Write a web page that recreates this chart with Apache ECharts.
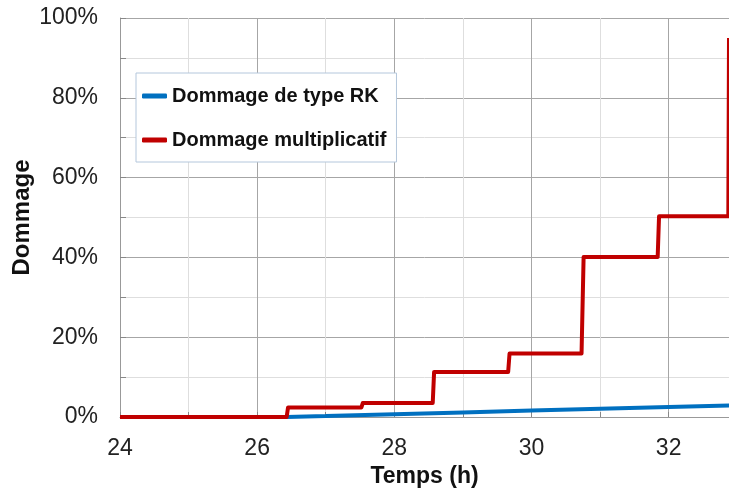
<!DOCTYPE html>
<html>
<head>
<meta charset="utf-8">
<script src="https://cdn.jsdelivr.net/npm/echarts@6/dist/echarts.min.js"></script>
<style>html,body{margin:0;padding:0;background:#fff}#c{width:729px;height:488px}</style>
</head>
<body>
<div id="c"></div>
<script>
// Data (time in hours, damage in %)
const seriesNames = ['Dommage de type RK', 'Dommage multiplicatif'];
const rkTime   = [24, 26.43, 27, 28, 29, 30, 31, 32, 32.9];
const rkValue  = [0, 0, 0.25, 0.7, 1.15, 1.6, 2.05, 2.5, 2.9];
const mulTime  = [24, 26.43, 26.45, 27.52, 27.54, 28.56, 28.58, 29.66, 29.68, 30.73, 30.76, 31.84, 31.86, 32.87, 32.88];
const mulValue = [0, 0, 2.4, 2.4, 3.5, 3.5, 11.3, 11.3, 15.9, 15.9, 40.1, 40.1, 50.3, 50.3, 95];
const yTicks = [0, 20, 40, 60, 80, 100];
const xTicks = [24, 26, 28, 30, 32];

const font = '"Liberation Sans", Arial, sans-serif';
const pair = (xs, ys) => xs.map((x, i) => [x, ys[i]]);

const chart = echarts.init(document.getElementById('c'), null, {renderer: 'canvas'});
chart.setOption({
  animation: false,
  backgroundColor: '#ffffff',
  grid: {left: 120, top: 18, right: 0, bottom: 71, containLabel: false, outerBoundsMode: 'none'},
  legend: {
    orient: 'vertical', left: 136, top: 73,
    backgroundColor: '#ffffff', borderColor: '#b4c7dc', borderWidth: 1,
    padding: [11, 10, 10, 6],
    itemWidth: 25, itemHeight: 5, itemGap: 20, icon: 'roundRect',
    textStyle: {fontFamily: font, fontWeight: 'bold', fontSize: 20, color: '#111', lineHeight: 24},
    data: seriesNames
  },
  xAxis: {
    type: 'value', min: xTicks[0], max: 32.88, interval: 2,
    name: 'Temps (h)', nameLocation: 'middle', nameGap: 48, nameMoveOverlap: false,
    nameTextStyle: {fontFamily: font, fontWeight: 'bold', fontSize: 23, color: '#111'},
    axisLine: {show: true, lineStyle: {color: '#999', width: 1}},
    axisTick: {show: true, inside: true, length: 5, lineStyle: {color: '#888'}},
    minorTick: {show: true, splitNumber: 2, length: 5, lineStyle: {color: '#888'}},
    axisLabel: {fontFamily: font, fontSize: 23, color: '#222', margin: 20, showMaxLabel: false,
      formatter: v => xTicks.includes(Math.round(v*100)/100) ? String(v) : ''},
    splitLine: {show: true, lineStyle: {color: '#a6a6a6', width: 1}},
    minorSplitLine: {show: true, lineStyle: {color: '#dedede', width: 1}}
  },
  yAxis: {
    type: 'value', min: 0, max: 100, interval: 20,
    name: 'Dommage', nameLocation: 'middle', nameGap: 86, nameRotate: 90, nameMoveOverlap: false,
    nameTextStyle: {fontFamily: font, fontWeight: 'bold', fontSize: 24, color: '#111'},
    axisLine: {show: true, lineStyle: {color: '#999', width: 1}},
    axisTick: {show: true, inside: true, length: 6, lineStyle: {color: '#888'}},
    minorTick: {show: true, splitNumber: 2, length: 6, lineStyle: {color: '#888'}},
    axisLabel: {fontFamily: font, fontSize: 23, color: '#222', margin: 22,
      formatter: v => yTicks.includes(v) ? v + '%' : ''},
    splitLine: {show: true, lineStyle: {color: '#a6a6a6', width: 1}},
    minorSplitLine: {show: true, lineStyle: {color: '#dedede', width: 1}}
  },
  series: [
    {name: seriesNames[0], type: 'line', data: pair(rkTime, rkValue), showSymbol: false,
     lineStyle: {color: '#0070c0', width: 4}, itemStyle: {color: '#0070c0'}, clip: true},
    {name: seriesNames[1], type: 'line', data: pair(mulTime, mulValue), showSymbol: false,
     lineStyle: {color: '#c00000', width: 4, join: 'round'}, itemStyle: {color: '#c00000'}, clip: true}
  ]
});
</script>
</body>
</html>
